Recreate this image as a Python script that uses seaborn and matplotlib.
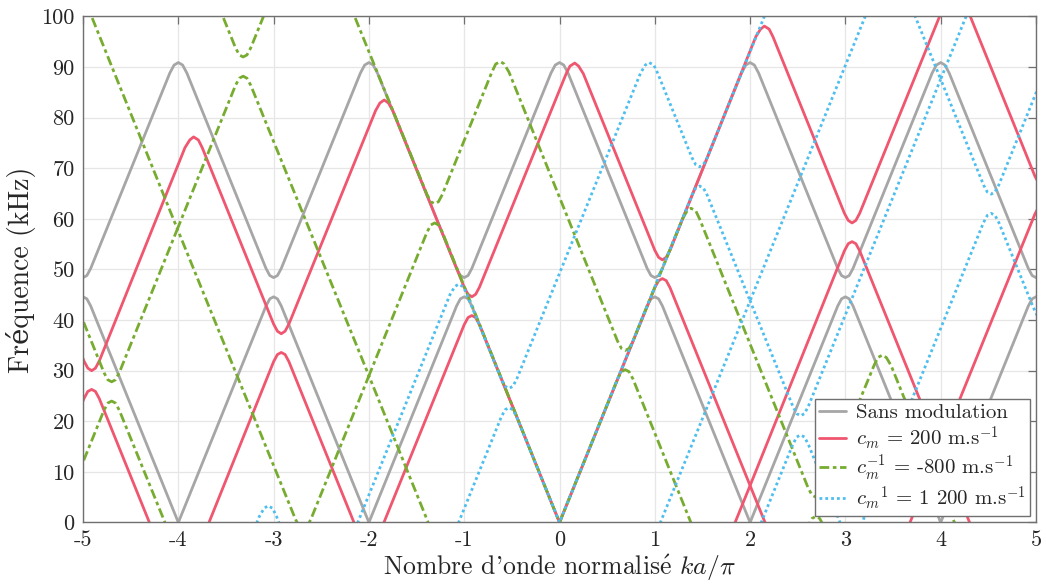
import seaborn as sns
import matplotlib.pyplot as plt

# corner points of every branch
# x = normalised wavenumber ka/pi, y = frequency in kHz

# without modulation
gray_b1_k = [-5.08, -5.04, -5.0, -4.96, -4.92, -4.0, -3.08, -3.04, -3.0, -2.96, -2.92, -2.0,
             -1.08, -1.04, -1.0, -0.96, -0.92, 0.0, 0.92, 0.96, 1.0, 1.04, 1.08, 2.0,
             2.92, 2.96, 3.0, 3.04, 3.08, 4.0, 4.92, 4.96, 5.0, 5.04, 5.08]
gray_b1_f = [42.8, 44.2, 44.6, 44.2, 42.8, 0.0, 42.8, 44.2, 44.6, 44.2, 42.8, 0.0,
             42.8, 44.2, 44.6, 44.2, 42.8, 0.0, 42.8, 44.2, 44.6, 44.2, 42.8, 0.0,
             42.8, 44.2, 44.6, 44.2, 42.8, 0.0, 42.8, 44.2, 44.6, 44.2, 42.8]
gray_b2_k = [-5.08, -5.04, -5.0, -4.96, -4.92, -4.09, -4.045, -4.0, -3.955, -3.91,
             -3.08, -3.04, -3.0, -2.96, -2.92, -2.09, -2.045, -2.0, -1.955, -1.91,
             -1.08, -1.04, -1.0, -0.96, -0.92, -0.09, -0.045, 0.0, 0.045, 0.09,
             0.92, 0.96, 1.0, 1.04, 1.08, 1.91, 1.955, 2.0, 2.045, 2.09,
             2.92, 2.96, 3.0, 3.04, 3.08, 3.91, 3.955, 4.0, 4.045, 4.09,
             4.92, 4.96, 5.0, 5.04, 5.08]
gray_b2_f = [50.2, 48.8, 48.4, 48.8, 50.2, 88.8, 90.4, 90.9, 90.4, 88.8,
             50.2, 48.8, 48.4, 48.8, 50.2, 88.8, 90.4, 90.9, 90.4, 88.8,
             50.2, 48.8, 48.4, 48.8, 50.2, 88.8, 90.4, 90.9, 90.4, 88.8,
             50.2, 48.8, 48.4, 48.8, 50.2, 88.8, 90.4, 90.9, 90.4, 88.8,
             50.2, 48.8, 48.4, 48.8, 50.2, 88.8, 90.4, 90.9, 90.4, 88.8,
             50.2, 48.8, 48.4, 48.8, 50.2]

# c_m = 200 m/s
red_b1_k = [-5.99, -4.99, -4.95, -4.91, -4.87, -4.83, -3.99, -3.0, -2.96, -2.92, -2.88, -2.84,
            -2.0, -1.0, -0.96, -0.92, -0.88, -0.84, 0.0, 1.0, 1.04, 1.08, 1.12, 1.16,
            2.0, 2.99, 3.03, 3.07, 3.11, 3.15, 3.99, 4.99, 5.03, 5.07, 5.11, 5.15, 5.99]
red_b1_f = [-21.9, 24.5, 25.9, 26.3, 25.9, 24.5, -14.6, 31.8, 33.2, 33.6, 33.2, 31.8,
            -7.3, 39.1, 40.5, 40.9, 40.5, 39.1, 0.0, 46.4, 47.8, 48.2, 47.8, 46.4,
            7.3, 53.7, 55.1, 55.5, 55.1, 53.7, 14.6, 61.0, 62.4, 62.8, 62.4, 61.0, 21.9]
red_b2_k = [-5.83, -4.99, -4.95, -4.91, -4.87, -4.83, -3.93, -3.88, -3.84, -3.79, -3.75,
            -3.0, -2.96, -2.92, -2.88, -2.84, -1.93, -1.885, -1.84, -1.795, -1.75,
            -1.0, -0.96, -0.92, -0.88, -0.84, 0.07, 0.11, 0.16, 0.20, 0.25,
            1.0, 1.04, 1.08, 1.12, 1.16, 2.06, 2.11, 2.15, 2.20, 2.24,
            2.99, 3.03, 3.07, 3.11, 3.15, 4.15, 4.99, 5.03, 5.07, 5.11, 5.15, 6.15]
red_b2_f = [71.0, 31.9, 30.5, 30.0, 30.5, 31.9, 74.1, 75.6, 76.2, 75.6, 74.1,
            39.2, 37.8, 37.3, 37.8, 39.2, 81.4, 82.9, 83.5, 82.9, 81.4,
            46.5, 45.1, 44.6, 45.1, 46.5, 88.7, 90.2, 90.8, 90.2, 88.7,
            53.8, 52.4, 51.9, 52.4, 53.8, 96.0, 97.5, 98.1, 97.5, 96.0,
            61.1, 59.7, 59.2, 59.7, 61.1, 107.5, 68.4, 67.0, 66.5, 67.0, 68.4, 114.8]
red_bm1_k = [0.92, 2.0, 2.92, 3.99, 4.91, 5.99]
red_bm1_f = [-42.8, 7.3, -35.5, 14.6, -28.2, 21.9]

# c_m^-1 = -800 m/s
green_b1_k = [-5.32, -4.01, -3.40, -3.36, -3.32, -3.28, -3.24, -2.0, -1.39, -1.35, -1.31, -1.27,
              -1.23, 0.0, 0.61, 0.65, 0.69, 0.73, 0.77, 2.0, 2.61, 2.65, 2.69, 2.73, 2.77, 4.01]
green_b1_f = [119.1, 58.0, 86.4, 87.8, 88.2, 87.8, 86.4, 29.0, 57.4, 58.8, 59.2, 58.8,
              57.4, 0.0, 28.4, 29.8, 30.2, 29.8, 28.4, -29.0, -0.6, 0.8, 1.2, 0.8, -0.6, -58.0]
green_b2_k = [-4.63, -3.40, -3.36, -3.32, -3.28, -3.24, -2.63, -1.39, -1.35, -1.31, -1.27, -1.23,
              -0.71, -0.67, -0.62, -0.58, -0.53, 0.61, 0.65, 0.69, 0.73, 0.77,
              1.29, 1.34, 1.38, 1.43, 1.47, 2.61, 2.65, 2.69, 2.73, 2.77,
              3.30, 3.34, 3.39, 3.43, 3.48, 4.70, 5.39]
green_b2_f = [151.2, 93.8, 92.4, 92.0, 92.4, 93.8, 122.2, 64.8, 63.4, 63.0, 63.4, 64.8,
              89.0, 90.6, 91.1, 90.6, 89.0, 35.8, 34.4, 34.0, 34.4, 35.8,
              60.0, 61.6, 62.1, 61.6, 60.0, 6.8, 5.4, 5.0, 5.4, 6.8,
              31.0, 32.6, 33.1, 32.6, 31.0, -25.9, 6.2]
green_bm1_k = [-6.70, -6.01, -4.78, -4.74, -4.70, -4.66, -4.62, -4.01,
               -2.77, -2.73, -2.69, -2.65, -2.61, -2.0, -0.69, 0.0, 1.31]
green_bm1_f = [54.9, 87.0, 29.6, 28.2, 27.8, 28.2, 29.6, 58.0,
               0.6, -0.8, -1.2, -0.8, 0.6, 29.0, -32.1, 0.0, -61.1]
green_bm2_k = [-6.70, -5.39, -4.78, -4.74, -4.70, -4.66, -4.62, -3.38]
green_bm2_f = [54.9, -6.2, 22.2, 23.6, 24.0, 23.6, 22.2, -35.2]

# c_m^1 = 1 200 m/s
cyan_b1_k = [-2.0, -0.61, -0.57, -0.53, -0.49, -0.45, 0.0, 1.39, 1.43, 1.47, 1.51, 1.55,
             2.0, 3.47, 4.0, 5.47]
cyan_b1_f = [-43.8, 20.9, 22.3, 22.7, 22.3, 20.9, 0.0, 64.7, 66.1, 66.5, 66.1, 64.7,
             43.8, 112.2, 87.6, 156.0]
cyan_b2_k = [-4.53, -3.15, -3.10, -3.06, -3.01, -2.97, -2.53, -1.15, -1.10, -1.06, -1.01, -0.97,
             -0.61, -0.57, -0.53, -0.49, -0.45, 0.85, 0.90, 0.94, 0.99, 1.03,
             1.39, 1.43, 1.47, 1.51, 1.55, 2.94]
cyan_b2_f = [-63.0, 1.2, 2.8, 3.3, 2.8, 1.2, -19.2, 45.0, 46.6, 47.1, 46.6, 45.0,
             28.3, 26.9, 26.5, 26.9, 28.3, 88.8, 90.4, 90.9, 90.4, 88.8,
             72.1, 70.7, 70.3, 70.7, 72.1, 136.8]
cyan_bm1_k = [0.0, 0.53, 2.0, 2.45, 2.49, 2.53, 2.57, 2.61, 4.0, 4.45, 4.49, 4.53, 4.57, 4.61, 6.0]
cyan_bm1_f = [0.0, -24.6, 43.8, 22.9, 21.5, 21.1, 21.5, 22.9, 87.6, 66.7, 65.3, 64.9, 65.3, 66.7, 131.4]
cyan_bm2_k = [0.53, 1.06, 2.45, 2.49, 2.53, 2.57, 2.61, 3.06, 4.45, 4.49, 4.53, 4.57, 4.61,
              4.97, 5.01, 5.06, 5.10, 5.15, 6.53]
cyan_bm2_f = [-24.6, -49.2, 15.5, 16.9, 17.3, 16.9, 15.5, -5.4, 59.3, 60.7, 61.1, 60.7, 59.3,
              42.6, 41.0, 40.5, 41.0, 42.6, 106.8]

x_ticks = [-5, -4, -3, -2, -1, 0, 1, 2, 3, 4, 5]
y_ticks = [0, 10, 20, 30, 40, 50, 60, 70, 80, 90, 100]

sns.set_style("white")
plt.rcParams['font.family'] = ['cmr10', 'DejaVu Serif']
plt.rcParams['mathtext.fontset'] = 'cm'
plt.rcParams['axes.formatter.use_mathtext'] = True
plt.rcParams['axes.unicode_minus'] = False

series = [
    ("Sans modulation", "#a6a6a6", "-",
     [(gray_b1_k, gray_b1_f), (gray_b2_k, gray_b2_f)]),
    (r"$c_m$ = 200 m.s$^{-1}$", "#f0566f", "-",
     [(red_b1_k, red_b1_f), (red_b2_k, red_b2_f), (red_bm1_k, red_bm1_f)]),
    (r"$c_m^{-1}$ = -800 m.s$^{-1}$", "#77ac30", (0, (3.5, 1.3, 1.3, 1.3)),
     [(green_b1_k, green_b1_f), (green_b2_k, green_b2_f),
      (green_bm1_k, green_bm1_f), (green_bm2_k, green_bm2_f)]),
    (r"$c_m{}^1$ = 1 200 m.s$^{-1}$", "#4dbeee", (0, (1, 1.1)),
     [(cyan_b1_k, cyan_b1_f), (cyan_b2_k, cyan_b2_f),
      (cyan_bm1_k, cyan_bm1_f), (cyan_bm2_k, cyan_bm2_f)]),
]

fig, ax = plt.subplots(figsize=(10.46, 5.87), dpi=100)
fig.subplots_adjust(left=0.0794, right=0.9904, bottom=0.1099, top=0.9719)

for label, color, ls, branches in series:
    for i, (k, f) in enumerate(branches):
        sns.lineplot(x=k, y=f, sort=False, estimator=None, color=color, linewidth=2,
                     linestyle=ls, label=label if i == 0 else None, legend=False, ax=ax)

ax.set_xlim(-5, 5)
ax.set_ylim(0, 100)
ax.set_xticks(x_ticks)
ax.set_xticklabels([str(v) for v in x_ticks])
ax.set_yticks(y_ticks)
ax.set_yticklabels([str(v) for v in y_ticks])
ax.grid(True, color="#e6e6e6", linewidth=0.9)
ax.set_axisbelow(True)
for sp in ax.spines.values():
    sp.set_color("#707070")
    sp.set_linewidth(1.0)
ax.tick_params(direction="in", top=True, right=True, length=5.5, width=0.9,
               color="#707070", labelcolor="#262626", labelsize=16, pad=6)

ax.set_xlabel(r"Nombre d'onde normalis$\acute{\mathrm{e}}$ $ka/\pi$", fontsize=18.5,
              color="#262626", labelpad=2)
ax.set_ylabel("Fréquence (kHz)", fontsize=20, color="#262626", labelpad=4)

handles, labels = ax.get_legend_handles_labels()
leg = ax.legend(handles, labels, loc="lower right", fontsize=15, fancybox=False,
                framealpha=1, edgecolor="#707070", borderaxespad=0.3,
                handlelength=1.3, handletextpad=0.45, labelspacing=0.08, borderpad=0.2)
leg.get_frame().set_linewidth(1.0)

fig.savefig("out.png", dpi=100)
